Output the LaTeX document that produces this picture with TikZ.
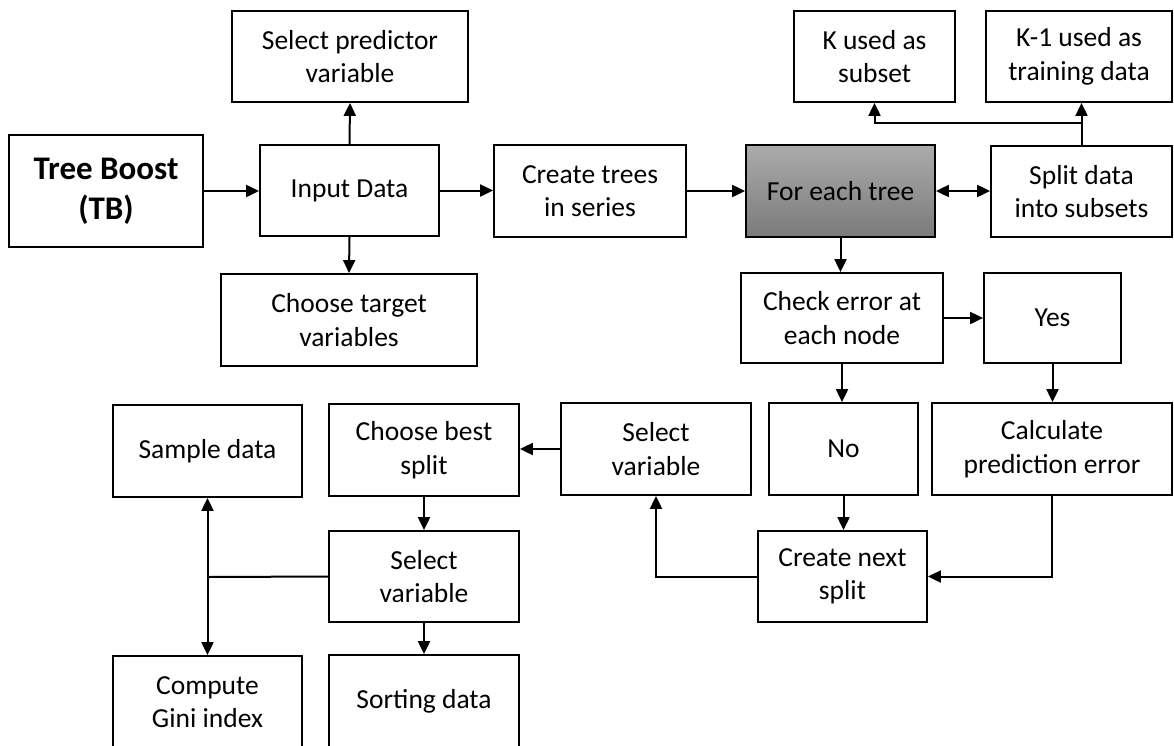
\documentclass[tikz,border=0pt]{standalone}
\usepackage{fontspec}
\setmainfont{Carlito}
\usetikzlibrary{arrows.meta}

\tikzset{
  box/.style={draw=black, line width=1.8pt, inner sep=0pt, align=center,
    fill=white, font=\fontsize{27.5}{33.5}\selectfont},
  titlebox/.style={box, font=\fontsize{33}{40}\selectfont\bfseries},
  shadedbox/.style={box, top color=black!33, bottom color=black!52},
  arr/.style={line width=2pt, -{Triangle[length=13pt,width=12pt]}},
  dblarr/.style={line width=2pt, {Triangle[length=13pt,width=12pt]}-{Triangle[length=13pt,width=12pt]}},
  conn/.style={line width=2pt}
}

\begin{document}
\begin{tikzpicture}[x=1pt, y=-1pt]
  \clip (0,0) rectangle (1174,745);
  \fill[white] (0,0) rectangle (1174,745);

  % top band
  \node[titlebox, minimum width=194pt, minimum height=112pt] (tb) at (106,191) {Tree Boost\\(TB)};
  \node[box, minimum width=179pt, minimum height=91pt] (input) at (349.5,190.5) {Input Data};
  \node[box, minimum width=236pt, minimum height=91pt] (selpred) at (350,56.5) {Select predictor\\variable};
  \node[box, minimum width=256pt, minimum height=92pt] (target) at (349,320) {Choose target\\variables};
  \node[box, minimum width=192pt, minimum height=92pt] (create) at (590,191) {Create trees\\in series};
  \node[shadedbox, minimum width=189pt, minimum height=92pt] (foreach) at (840.5,191) {For each tree};
  \node[box, minimum width=181pt, minimum height=91pt] (split) at (1081.5,191.5) {Split data\\into subsets};
  \node[box, minimum width=161pt, minimum height=91pt] (kused) at (874.5,56.5) {K used as\\subset};
  \node[box, minimum width=186pt, minimum height=91pt] (kone) at (1079,56.5) {K-1 used as\\training data};

  % error check
  \node[box, minimum width=202pt, minimum height=90pt] (check) at (842,318) {Check error at\\each node};
  \node[box, minimum width=137pt, minimum height=90pt] (yes) at (1052.5,318) {Yes};
  \node[box, minimum width=149pt, minimum height=92pt] (no) at (843.5,449) {No};
  \node[box, minimum width=240pt, minimum height=92pt] (calc) at (1052,449) {Calculate\\prediction error};
  \node[box, minimum width=190pt, minimum height=92pt] (selvarA) at (656,449) {Select\\variable};
  \node[box, minimum width=169pt, minimum height=91pt] (nextsplit) at (842.5,576.5) {Create next\\split};

  % split search
  \node[box, minimum width=190pt, minimum height=92pt] (best) at (424,450) {Choose best\\split};
  \node[box, minimum width=189pt, minimum height=92pt] (sample) at (207.5,451) {Sample data};
  \node[box, minimum width=190pt, minimum height=91pt] (selvarB) at (424,576.5) {Select\\variable};
  \node[box, minimum width=189pt, minimum height=92pt] (gini) at (207.5,702) {Compute\\Gini index};
  \node[box, minimum width=190pt, minimum height=92pt] (sort) at (424,701) {Sorting data};

  \coordinate (kj) at (1082,123);
  \coordinate (sj) at (207.5,577);

  % connectors
  \draw[arr] (tb.east) -- (tb.east -| input.west);
  \draw[arr] (input.north) -- (selpred.south);
  \draw[arr] (input.south) -- (target.north);
  \draw[arr] (input.east) -- (input.east -| create.west);
  \draw[arr] (create.east) -- (create.east -| foreach.west);
  \draw[dblarr] (foreach.east) -- (foreach.east -| split.west);
  \draw[arr] (split.north) -- (split.north |- kone.south);
  \draw[arr] (kj) -| (kused.south);
  \draw[arr] (foreach.south) -- (foreach.south |- check.north);
  \draw[arr] (check.east) -- (check.east -| yes.west);
  \draw[arr] (check.south) -- (check.south |- no.north);
  \draw[arr] (yes.south) -- (yes.south |- calc.north);
  \draw[arr] (no.south) -- (no.south |- nextsplit.north);
  \draw[arr] (calc.south) |- (nextsplit.east);
  \draw[arr] (nextsplit.west) -| (selvarA.south);
  \draw[arr] (selvarA.west) -- (selvarA.west -| best.east);
  \draw[arr] (best.south) -- (selvarB.north);
  \draw[arr] (selvarB.south) -- (sort.north);
  \draw[conn] (selvarB.west) -- (sj);
  \draw[arr] (sj) -- (sample.south);
  \draw[arr] (sj) -- (gini.north);
\end{tikzpicture}
\end{document}
